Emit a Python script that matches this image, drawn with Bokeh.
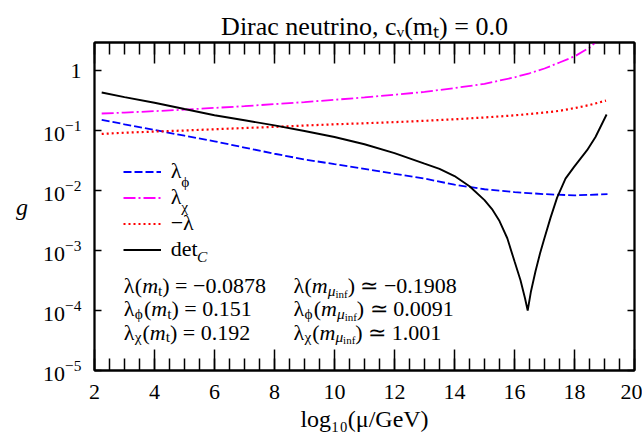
from bokeh.plotting import figure
from bokeh.models import (Range1d, LinearAxis, LogAxis, SingleIntervalTicker, LogTicker,
                          CustomJSTickFormatter, Legend, LegendItem, Label, Title)
from bokeh.embed import file_html
from bokeh.resources import INLINE

# ---------------- data ----------------
x_phi = [2.24, 3, 4, 5, 6, 7, 8, 9, 10, 11, 12, 13, 14, 15, 16, 17, 18, 19.1]
lam_phi = [0.151, 0.127, 0.102, 0.082, 0.066, 0.052, 0.041, 0.033, 0.0275, 0.023,
           0.019, 0.0158, 0.0125, 0.0105, 0.0094, 0.0087, 0.0083, 0.0087]

x_chi = [2.24, 3, 4, 5, 6, 7, 8, 9, 10, 11, 12, 13, 14, 15, 16, 16.5, 17, 17.5, 18, 18.5, 19.05]
lam_chi = [0.192, 0.199, 0.21, 0.223, 0.238, 0.255, 0.275, 0.298, 0.325, 0.357, 0.395,
           0.44, 0.51, 0.60, 0.77, 0.90, 1.08, 1.36, 1.72, 2.4, 4.2]

x_lam = [2.24, 3, 4, 5, 6, 7, 8, 9, 10, 11, 12, 13, 14, 15, 16, 17, 17.5, 18, 18.5, 19.05]
neg_lam = [0.0878, 0.092, 0.096, 0.100, 0.105, 0.110, 0.115, 0.121, 0.127, 0.132, 0.138,
           0.145, 0.154, 0.165, 0.179, 0.199, 0.213, 0.236, 0.266, 0.315]

x_det = [2.24, 3, 4, 5, 6, 7, 8, 9, 10, 11, 12, 13, 13.5, 14, 14.5, 15, 15.25, 15.5, 15.76,
         16.0, 16.2, 16.35, 16.44, 16.55, 16.7, 16.85, 16.98, 17.2, 17.42, 17.7, 17.98, 18.2,
         18.42, 18.7, 19.07]
det_c = [0.43, 0.36, 0.29, 0.228, 0.18, 0.148, 0.122, 0.098, 0.078, 0.059, 0.042, 0.028,
         0.023, 0.0174, 0.0118, 0.0069, 0.0049, 0.0031, 0.0016, 0.00066, 0.00032, 0.00016,
         0.0001, 0.00021, 0.00045, 0.00089, 0.0015, 0.0035, 0.0076, 0.0158, 0.0245, 0.034,
         0.047, 0.078, 0.185]

x_ticks_interval = 2
vals_mt = ["\u22120.0878", "0.151", "0.192"]
vals_inf = ["\u22120.1908", "0.0091", "1.001"]
title_text = "Dirac neutrino, c\u1d65(m\u209c) = 0.0"
x_label = "log\u2081\u2080(\u03bc/GeV)"
y_label = "g"

# ---------------- layout ----------------
W, H = 642, 441
FL, FR, FT, FB = 94, 634, 42, 370
FONT = "Liberation Serif, serif"

p = figure(width=W, height=H, x_range=Range1d(2, 20), y_range=Range1d(1e-5, 10 ** 0.467),
           y_axis_type="log", output_backend="svg", toolbar_location=None,
           min_border_left=FL, min_border_right=W - FR, min_border_top=FT,
           min_border_bottom=H - FB)
p.title = Title(text=title_text, align="center", text_font=FONT, text_font_size="26px",
                text_font_style="normal", text_color="black", standoff=3)
p.grid.visible = False
p.outline_line_color = "black"
p.outline_line_width = 1.8
p.background_fill_color = "white"
p.border_fill_color = "white"


def style_x(ax):
    ax.ticker = SingleIntervalTicker(interval=x_ticks_interval, num_minor_ticks=4)
    ax.major_tick_in = 21
    ax.major_tick_out = 0
    ax.minor_tick_in = 12
    ax.minor_tick_out = 0
    ax.major_tick_line_width = 1.5
    ax.minor_tick_line_width = 1.5
    ax.axis_line_width = 1.8
    ax.major_label_text_font = FONT
    ax.major_label_text_font_size = "22px"
    ax.major_label_text_color = "black"
    ax.major_label_standoff = 14


def style_y(ax):
    ax.ticker = LogTicker(mantissas=[1])
    ax.major_tick_in = 7
    ax.major_tick_out = 0
    ax.minor_tick_line_color = None
    ax.major_tick_line_width = 1.5
    ax.axis_line_width = 1.8
    ax.major_label_text_font = FONT
    ax.major_label_text_font_size = "22px"
    ax.major_label_text_color = "black"
    ax.major_label_standoff = 9


style_x(p.xaxis[0])
style_y(p.yaxis[0])
p.yaxis[0].major_label_overrides = {1: "1"}

p.xaxis[0].axis_label = x_label
p.xaxis[0].axis_label_text_font = FONT
p.xaxis[0].axis_label_text_font_size = "24px"
p.xaxis[0].axis_label_text_font_style = "normal"
p.xaxis[0].axis_label_text_color = "black"
p.xaxis[0].axis_label_standoff = 4

p.yaxis[0].axis_label = y_label
p.yaxis[0].axis_label_text_font = FONT
p.yaxis[0].axis_label_text_font_size = "24px"
p.yaxis[0].axis_label_text_font_style = "italic"
p.yaxis[0].axis_label_text_color = "black"
p.yaxis[0].axis_label_standoff = 12
try:
    p.yaxis[0].axis_label_orientation = "horizontal"
except Exception:
    pass

top = LinearAxis(formatter=CustomJSTickFormatter(code="return ''"))
style_x(top)
top.major_label_standoff = 0
top.major_label_text_font_size = "0px"
p.add_layout(top, "above")

right = LogAxis(formatter=CustomJSTickFormatter(code="return ''"))
style_y(right)
right.major_label_standoff = 0
right.major_label_text_font_size = "0px"
p.add_layout(right, "right")

# ---------------- curves ----------------
r_phi = p.line(x_phi, lam_phi, line_color="#0000ff", line_width=1.8, line_dash="8 3")
r_chi = p.line(x_chi, lam_chi, line_color="#ff00ff", line_width=1.8, line_dash="12 3 2 3")
r_lam = p.line(x_lam, neg_lam, line_color="#ff0000", line_width=2.2, line_dash="2 3")
r_det = p.line(x_det, det_c, line_color="black", line_width=1.9)

# ---------------- legend ----------------
LS = 22
leg_left, leg_bottom = 122.7, 262
legend = Legend(items=[LegendItem(label="\u03bb", renderers=[r_phi]),
                       LegendItem(label="\u03bb", renderers=[r_chi]),
                       LegendItem(label="\u2212\u03bb", renderers=[r_lam]),
                       LegendItem(label="det", renderers=[r_det])],
                location=(leg_left - FL, FB - leg_bottom), orientation="vertical",
                glyph_width=38, glyph_height=25, label_height=25, spacing=0,
                padding=0, margin=0, label_standoff=10,
                border_line_color=None, background_fill_alpha=0,
                label_text_font=FONT, label_text_font_size=f"{LS}px",
                label_text_color="black")
p.add_layout(legend)

# ---------------- rich text helpers (inside the frame) ----------------
REG = {' ': 0.25, '(': 0.333, ')': 0.333, '=': 0.564, '\u2212': 0.564, '.': 0.25, ',': 0.25,
       '\u2243': 0.8, '\u03bb': 0.5, '\u03d5': 0.6, '\u03c7': 0.5, '\u03bd': 0.46,
       '\u03bc': 0.5, 'D': 0.722, 'i': 0.278, 'r': 0.333, 'a': 0.444, 'c': 0.444, 'n': 0.5,
       'e': 0.444, 'u': 0.5, 't': 0.278, 'o': 0.5, 'd': 0.5, 'f': 0.333, 'l': 0.278,
       'g': 0.5, 'G': 0.722, 'V': 0.722, '/': 0.278, 'm': 0.778, 'C': 0.667}
ITA = {'m': 0.722, 'c': 0.444, 'C': 0.667, 'g': 0.5, 't': 0.278, '\u03bc': 0.5,
       '\u03bd': 0.45}
SCALE = [1.0, 0.7, 0.5]
DROP = [0.0, 0.22, 0.37]


def tw(s, size, italic=False):
    t = ITA if italic else REG
    return sum(t.get(ch, REG.get(ch, 0.5)) for ch in s) * size


def rich(segs, x0, base, size, align="left"):
    widths = [tw(t, size * SCALE[l], it) for t, l, it in segs]
    total = sum(widths)
    x = x0 - total / 2 if align == "center" else x0
    for (t, l, it), w in zip(segs, widths):
        p.add_layout(Label(x=x - FL, y=FB - (base + DROP[l] * size),
                           x_units="screen", y_units="screen", text=t,
                           text_font=FONT, text_font_size=f"{size * SCALE[l]:.1f}px",
                           text_font_style="italic" if it else "normal",
                           text_baseline="alphabetic", text_align="left",
                           text_color="black"))
        x += w


# legend subscripts (legend labels are middle-aligned on each row)
lab_x = leg_left + 38 + 10
centers = [leg_bottom - 25 * 3.5, leg_bottom - 25 * 2.5, leg_bottom - 25 * 1.5,
           leg_bottom - 25 * 0.5]
MID = 2.0
rich([("\u03d5", 1, False)], lab_x + tw("\u03bb", LS) - 1, centers[0] + MID, LS)
rich([("\u03c7", 1, False)], lab_x + tw("\u03bb", LS) - 1, centers[1] + MID, LS)
rich([("C", 1, True)], lab_x + tw("det", LS) - 1, centers[3] + MID, LS)

# annotation block
AS = 22
col1, col2 = 123.3, 293
bases = [285, 308, 331.5]
subs = [None, "\u03d5", "\u03c7"]
for i in range(3):
    head = [("\u03bb", 0, False)] + ([(subs[i], 1, False)] if subs[i] else [])
    rich(head + [("(", 0, False), ("m", 0, True), ("t", 1, False),
                 (") = " + vals_mt[i], 0, False)], col1, bases[i], AS)
    rich(head + [("(", 0, False), ("m", 0, True), ("\u03bc", 1, True), ("inf", 2, False),
                 (") \u2243 " + vals_inf[i], 0, False)], col2, bases[i], AS)

open("out.html", "w").write(file_html(p, INLINE))
